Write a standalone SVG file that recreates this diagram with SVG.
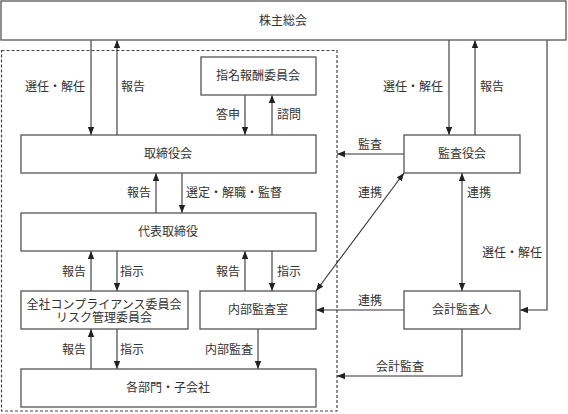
<svg xmlns="http://www.w3.org/2000/svg" width="568" height="414" viewBox="0 0 568 414">
<style>
.box{fill:#fff;stroke:#555;stroke-width:1.3}
.ln{fill:none;stroke:#333;stroke-width:1.1}
text{font-family:"Liberation Serif","Noto Sans CJK JP",serif;font-size:12px;fill:#333;text-anchor:middle}
</style>
<defs>
<marker id="ah" viewBox="0 0 8 8" refX="8" refY="4" markerWidth="8" markerHeight="8" markerUnits="userSpaceOnUse" orient="auto-start-reverse">
<path d="M0,0.8 L8,4 L0,7.2 Z" fill="#222"/>
</marker>
</defs>
<rect width="568" height="414" fill="#fff"/>
<rect x="1.5" y="50.5" width="335.5" height="360.5" fill="none" stroke="#444" stroke-width="1.2" stroke-dasharray="3,2"/>
<g id="connectors">
<line class="ln" x1="91" y1="40" x2="91" y2="135" marker-end="url(#ah)"/>
<line class="ln" x1="117" y1="135" x2="117" y2="40" marker-end="url(#ah)"/>
<line class="ln" x1="245" y1="95" x2="245" y2="135" marker-end="url(#ah)"/>
<line class="ln" x1="272" y1="135" x2="272" y2="95" marker-end="url(#ah)"/>
<line class="ln" x1="449" y1="40" x2="449" y2="135" marker-end="url(#ah)"/>
<line class="ln" x1="475" y1="135" x2="475" y2="40" marker-end="url(#ah)"/>
<polyline class="ln" points="547,40 547,310 520,310" marker-end="url(#ah)"/>
<line class="ln" x1="156" y1="213" x2="156" y2="173" marker-end="url(#ah)"/>
<line class="ln" x1="182" y1="173" x2="182" y2="213" marker-end="url(#ah)"/>
<line class="ln" x1="91" y1="291" x2="91" y2="251" marker-end="url(#ah)"/>
<line class="ln" x1="117" y1="251" x2="117" y2="291" marker-end="url(#ah)"/>
<line class="ln" x1="245" y1="291" x2="245" y2="251" marker-end="url(#ah)"/>
<line class="ln" x1="272" y1="251" x2="272" y2="291" marker-end="url(#ah)"/>
<line class="ln" x1="91" y1="369" x2="91" y2="329" marker-end="url(#ah)"/>
<line class="ln" x1="117" y1="329" x2="117" y2="369" marker-end="url(#ah)"/>
<line class="ln" x1="258" y1="329" x2="258" y2="369" marker-end="url(#ah)"/>
<line class="ln" x1="404" y1="154" x2="337" y2="154" marker-end="url(#ah)"/>
<line class="ln" x1="316" y1="291" x2="404" y2="173" marker-start="url(#ah)" marker-end="url(#ah)"/>
<line class="ln" x1="462" y1="173" x2="462" y2="291" marker-start="url(#ah)" marker-end="url(#ah)"/>
<line class="ln" x1="404" y1="310" x2="316" y2="310" marker-end="url(#ah)"/>
<polyline class="ln" points="462,329 462,376 337,376" marker-end="url(#ah)"/>
<text x="55" y="91">選任・解任</text>
<text x="133" y="91">報告</text>
<text x="228" y="119">答申</text>
<text x="289" y="119">諮問</text>
<text x="413" y="91">選任・解任</text>
<text x="492" y="91">報告</text>
<text x="139" y="197">報告</text>
<text x="234" y="197">選定・解職・監督</text>
<text x="74" y="276">報告</text>
<text x="132" y="276">指示</text>
<text x="228" y="276">報告</text>
<text x="289" y="276">指示</text>
<text x="74" y="354">報告</text>
<text x="132" y="354">指示</text>
<text x="229" y="354">内部監査</text>
<text x="370" y="149">監査</text>
<text x="370" y="197">連携</text>
<text x="479" y="197">連携</text>
<text x="512" y="257">選任・解任</text>
<text x="370" y="305">連携</text>
<text x="400" y="371">会計監査</text>
</g>
<g id="n-shareholders"><rect class="box" x="1" y="1" width="565" height="39"/><text x="283" y="25">株主総会</text></g>
<g id="n-nomination"><rect class="box" x="201" y="57" width="115" height="38"/><text x="258" y="80">指名報酬委員会</text></g>
<g id="n-board"><rect class="box" x="21" y="135" width="295" height="38"/><text x="168" y="158">取締役会</text></g>
<g id="n-auditboard"><rect class="box" x="404" y="135" width="116" height="38"/><text x="462" y="158">監査役会</text></g>
<g id="n-ceo"><rect class="box" x="21" y="213" width="295" height="38"/><text x="168" y="236">代表取締役</text></g>
<g id="n-compliance"><rect class="box" x="21" y="291" width="167" height="38"/><text x="104" y="309">全社コンプライアンス委員会</text><text x="104" y="322">リスク管理委員会</text></g>
<g id="n-internalaudit"><rect class="box" x="200" y="291" width="116" height="38"/><text x="258" y="314">内部監査室</text></g>
<g id="n-accountant"><rect class="box" x="404" y="291" width="116" height="38"/><text x="462" y="314">会計監査人</text></g>
<g id="n-divisions"><rect class="box" x="21" y="369" width="295" height="38"/><text x="168" y="392">各部門・子会社</text></g>
</svg>
